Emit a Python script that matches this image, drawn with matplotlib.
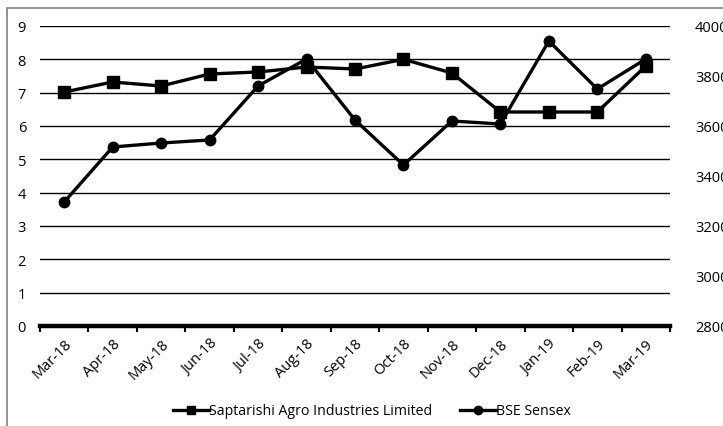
import matplotlib.pyplot as plt
from matplotlib.patches import Rectangle

months = ["Mar-18", "Apr-18", "May-18", "Jun-18", "Jul-18", "Aug-18", "Sep-18",
          "Oct-18", "Nov-18", "Dec-18", "Jan-19", "Feb-19", "Mar-19"]
saptarishi = [7.02, 7.32, 7.2, 7.56, 7.62, 7.77, 7.71, 8.0, 7.59, 6.42, 6.42, 6.42, 7.8]
sensex = [32960, 35160, 35320, 35440, 37600, 38680, 36240, 34440, 36200, 36080,
          39400, 37480, 38680]

plt.rcParams['font.family'] = ['Open Sans', 'DejaVu Sans']

fig = plt.figure(figsize=(7.23, 4.27), dpi=100)
fig.patches.append(Rectangle((7 / 723, -0.1), 1.1, 1 - 9 / 427 + 0.1,
                             transform=fig.transFigure, fill=False,
                             edgecolor='#808080', linewidth=1.2))

ax = fig.add_axes([40 / 723, 1 - 327 / 427, 630 / 723, 300 / 427])
x = list(range(len(months)))

ax.set_xlim(-0.5, len(months) - 0.5)
ax.set_ylim(0, 9)
ax.set_yticks(range(0, 10))
for v in range(1, 10):
    ax.axhline(v, color='black', linewidth=1.0, zorder=1)

ax.plot(x, saptarishi, color='black', linewidth=2.4, marker='s', markersize=8,
        label='Saptarishi Agro Industries Limited', zorder=3)

ax2 = ax.twinx()
ax2.set_ylim(28000, 40000)
ax2.set_yticks(range(28000, 40001, 2000))
ax2.plot(x, sensex, color='black', linewidth=2.4, marker='o', markersize=7.5,
         label='BSE Sensex', zorder=3)

for a in (ax, ax2):
    for s in ('top', 'left', 'right', 'bottom'):
        a.spines[s].set_visible(False)

ax.axhline(0, color='black', linewidth=3.2, zorder=4, clip_on=False)

ax.set_xticks([i - 0.5 for i in range(len(months) + 1)], minor=False)
ax.set_xticklabels([])
ax.tick_params(axis='x', length=4, width=1.5, direction='out', color='black')
ax.set_xticks(x, minor=True)
ax.set_xticklabels(months, minor=True, rotation=45, ha='right', rotation_mode='anchor',
                   fontsize=10.5)
ax.tick_params(axis='x', which='minor', length=0, pad=7)

ax.tick_params(axis='y', length=0, labelsize=10.5, pad=10)
ax2.tick_params(axis='y', length=0, labelsize=10.5, pad=18)

h1, l1 = ax.get_legend_handles_labels()
h2, l2 = ax2.get_legend_handles_labels()
fig.legend(h1 + h2, l1 + l2, loc='center', bbox_to_anchor=(372 / 723, 1 - 412 / 427),
           ncol=2, frameon=False, fontsize=10.2, handlelength=2.5, handletextpad=0.0,
           columnspacing=2.0, markerscale=0.8)

fig.savefig('out.png', dpi=100)
